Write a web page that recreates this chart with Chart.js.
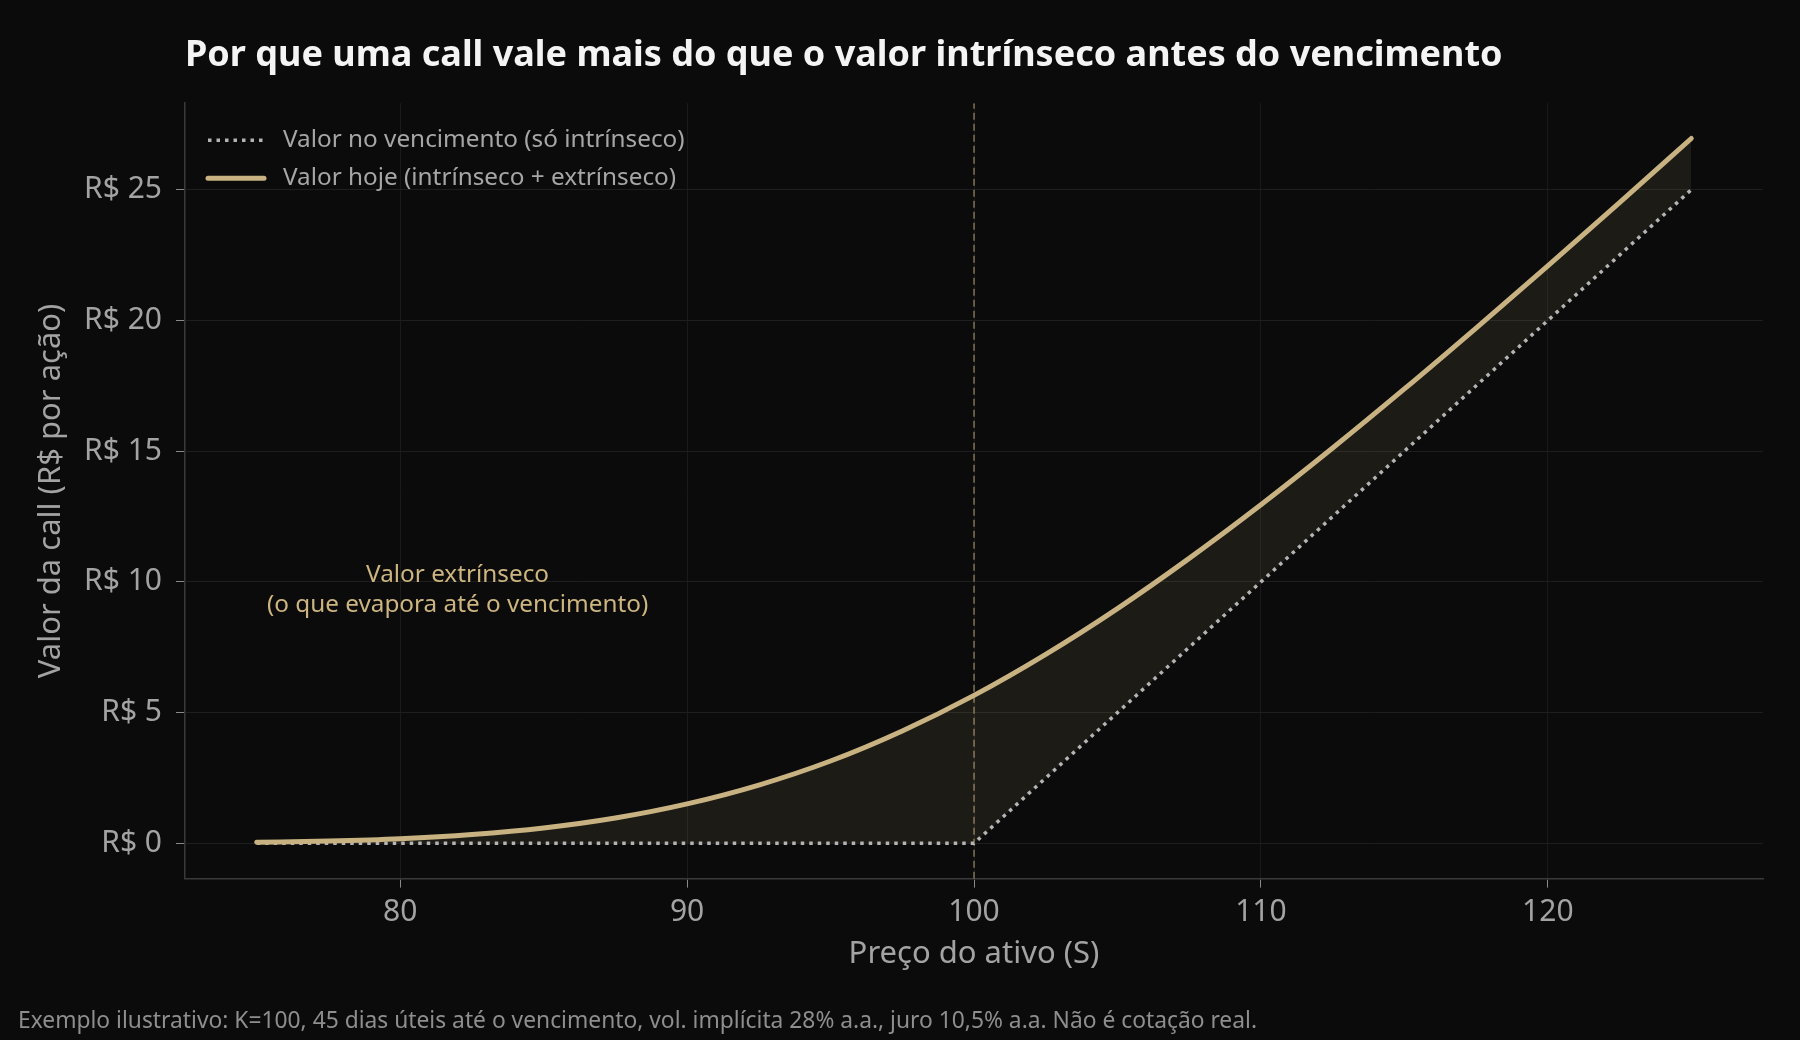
<!DOCTYPE html>
<html lang="pt-BR">
<head>
<meta charset="utf-8">
<title>Call: valor hoje vs. vencimento</title>
<script src="https://cdn.jsdelivr.net/npm/chart.js@4.4.1/dist/chart.umd.min.js"></script>
<style>
  html, body { margin: 0; padding: 0; background: #0b0b0b; }
  #wrap { width: 1800px; height: 1040px; position: relative; }
</style>
</head>
<body>
<div id="wrap"><canvas id="callChart"></canvas></div>
<script>
// preço do ativo (S) e valores
const precoAtivo = [75, 77.5, 80, 82.5, 85, 87.5, 90, 92.5, 95, 97.5, 100,
                    102.5, 105, 107.5, 110, 112.5, 115, 117.5, 120, 122.5, 125];
const valorHoje = [0.04, 0.09, 0.18, 0.34, 0.59, 0.97, 1.51, 2.23, 3.15, 4.30, 5.66,
                   7.23, 8.98, 10.90, 12.95, 15.12, 17.38, 19.71, 22.09, 24.51, 26.96];
const valorVencimento = [0, 0, 0, 0, 0, 0, 0, 0, 0, 0, 0,
                         2.5, 5, 7.5, 10, 12.5, 15, 17.5, 20, 22.5, 25];
const strike = 100;
const xTicks = [80, 90, 100, 110, 120];
const yTicks = [0, 5, 10, 15, 20, 25];
const xMin = 72.5, xMax = 127.5;
const yMin = -1.35, yMax = 28.31;

const ouro = "#c8b281";
const fonte = "'Noto Sans', 'Open Sans', sans-serif";

const legendItems = [
    { text: "Valor no vencimento (só intrínseco)", color: "#b4b4b4", width: 3.5, dash: [3.5, 5], cap: "butt" },
    { text: "Valor hoje (intrínseco + extrínseco)", color: ouro, width: 5, dash: [], cap: "round" }
];

const toPoints = (xs, ys) => xs.map((x, i) => ({ x, y: ys[i] }));

// legenda no canto superior esquerdo da área do gráfico
const legendaPlugin = {
    id: "legenda",
    afterDraw(chart) {
        const { ctx, chartArea } = chart;
        ctx.save();
        ctx.font = `24.3px ${fonte}`;
        ctx.textBaseline = "middle";
        legendItems.forEach((item, i) => {
            const y = chartArea.top + 37 + i * 38;
            ctx.beginPath();
            ctx.strokeStyle = item.color;
            ctx.lineWidth = item.width;
            ctx.lineCap = item.cap;
            ctx.setLineDash(item.dash);
            ctx.moveTo(chartArea.left + 23, y);
            ctx.lineTo(chartArea.left + 79, y);
            ctx.stroke();
            ctx.setLineDash([]);
            ctx.fillStyle = "#a6a6a6";
            ctx.fillText(item.text, chartArea.left + 98, y);
        });
        ctx.restore();
    }
};

// rótulo da área extrínseca
const anotacaoPlugin = {
    id: "anotacao",
    afterDatasetsDraw(chart) {
        const { ctx, scales } = chart;
        const cx = scales.x.getPixelForValue(82);
        const cy = scales.y.getPixelForValue(9.7);
        ctx.save();
        ctx.font = `24.3px ${fonte}`;
        ctx.fillStyle = "#cdb57f";
        ctx.textAlign = "center";
        ctx.textBaseline = "middle";
        ctx.fillText("Valor extrínseco", cx, cy - 15);
        ctx.fillText("(o que evapora até o vencimento)", cx, cy + 15);
        ctx.restore();
    }
};

new Chart(document.getElementById("callChart"), {
    type: "line",
    data: {
        datasets: [
            {
                label: "Valor no vencimento (só intrínseco)",
                data: toPoints(precoAtivo, valorVencimento),
                borderColor: "#b4b4b4",
                borderWidth: 3.5,
                borderDash: [3.5, 5],
                borderCapStyle: "butt",
                pointRadius: 0,
                tension: 0,
                order: 1
            },
            {
                label: "Valor hoje (intrínseco + extrínseco)",
                data: toPoints(precoAtivo, valorHoje),
                borderColor: ouro,
                borderWidth: 5,
                borderCapStyle: "round",
                pointRadius: 0,
                cubicInterpolationMode: "monotone",
                fill: { target: 0, above: "rgba(200,178,129,0.10)", below: "rgba(200,178,129,0.10)" },
                order: 0
            },
            {
                label: "strike",
                data: [{ x: strike, y: yMin }, { x: strike, y: yMax }],
                borderColor: "rgba(200,178,129,0.45)",
                borderWidth: 2,
                borderDash: [7, 4],
                pointRadius: 0,
                order: 2
            }
        ]
    },
    options: {
        responsive: true,
        maintainAspectRatio: false,
        animation: false,
        layout: { padding: { left: 18, right: 37, top: 0, bottom: 0 } },
        plugins: {
            legend: { display: false },
            tooltip: { enabled: false },
            filler: { drawTime: "beforeDatasetsDraw" },
            title: {
                display: true,
                text: "Por que uma call vale mais do que o valor intrínseco antes do vencimento",
                align: "start",
                fullSize: false,
                color: "#f4f4f4",
                font: { family: fonte, size: 36, weight: "bold", lineHeight: 1.2 },
                padding: { top: 34, bottom: 26 }
            },
            subtitle: {
                display: true,
                position: "bottom",
                align: "start",
                text: "Exemplo ilustrativo: K=100, 45 dias úteis até o vencimento, vol. implícita 28% a.a., juro 10,5% a.a. Não é cotação real.",
                color: "#8e8e8e",
                font: { family: fonte, size: 22.8, lineHeight: 1.2 },
                padding: { top: 0, bottom: 5 }
            }
        },
        scales: {
            x: {
                type: "linear",
                min: xMin,
                max: xMax,
                afterBuildTicks: (s) => { s.ticks = xTicks.map(v => ({ value: v })); },
                afterFit: (s) => { s.height = 129; },
                grid: { color: "#1a1a1a", lineWidth: 1, tickLength: 9, tickColor: "#8a8a8a" },
                border: { color: "#3a3a3a", width: 1.5 },
                ticks: { color: "#a3a3a3", padding: 7, font: { family: fonte, size: 30 } },
                title: {
                    display: true,
                    text: "Preço do ativo (S)",
                    color: "#a3a3a3",
                    font: { family: fonte, size: 31, lineHeight: 1.2 },
                    padding: { top: 0, bottom: 35 }
                }
            },
            y: {
                type: "linear",
                min: yMin,
                max: yMax,
                afterBuildTicks: (s) => { s.ticks = yTicks.map(v => ({ value: v })); },
                afterFit: (s) => { s.width = 167; },
                grid: { color: "#1e1e1e", lineWidth: 1, tickLength: 9, tickColor: "#8a8a8a" },
                border: { color: "#3a3a3a", width: 1.5 },
                ticks: {
                    color: "#a3a3a3",
                    padding: 14,
                    font: { family: fonte, size: 30 },
                    callback: (v) => "R$ " + v
                },
                title: {
                    display: true,
                    text: "Valor da call (R$ por ação)",
                    color: "#a3a3a3",
                    font: { family: fonte, size: 31, lineHeight: 1.2 },
                    padding: { top: 15, bottom: 0 }
                }
            }
        }
    },
    plugins: [legendaPlugin, anotacaoPlugin]
});
</script>
</body>
</html>
